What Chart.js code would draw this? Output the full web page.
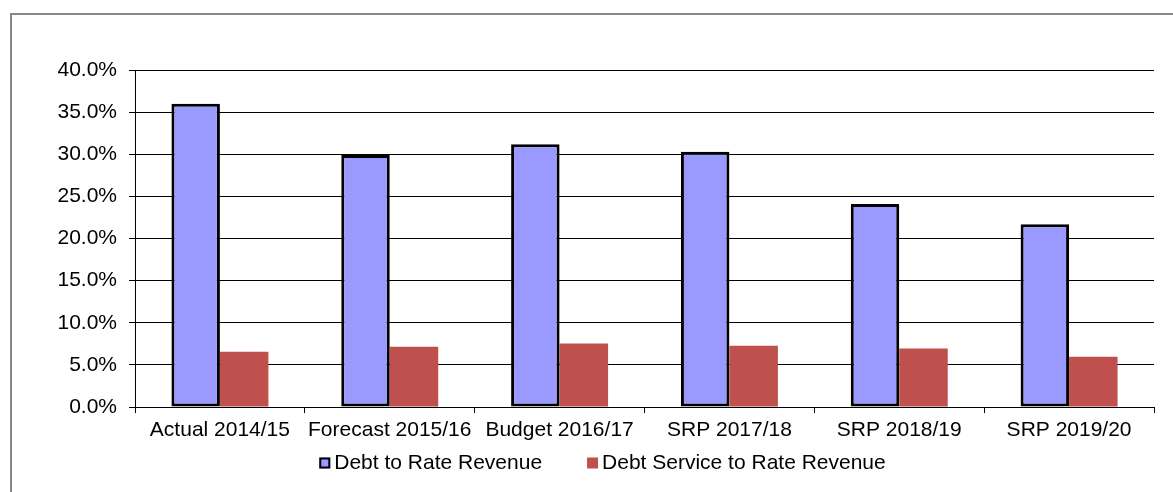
<!DOCTYPE html>
<html>
<head>
<meta charset="utf-8">
<script src="https://cdn.jsdelivr.net/npm/chart.js@4/dist/chart.umd.min.js"></script>
<style>
  html, body { margin: 0; padding: 0; background: #fff; }
  #wrap { position: relative; width: 1173px; height: 492px; overflow: hidden; }
  #frame { position: absolute; left: 10px; top: 13px; width: 1200px; height: 520px; border: 2px solid #878787; }
  #chart { position: absolute; left: 0; top: 0; }
</style>
</head>
<body>
<div id="wrap">
  <div id="frame"></div>
  <canvas id="chart" width="1173" height="492"></canvas>
</div>
<script>
// Chart data
const categories = ['Actual 2014/15', 'Forecast 2015/16', 'Budget 2016/17', 'SRP 2017/18', 'SRP 2018/19', 'SRP 2019/20'];
const debtToRate = [36.0, 29.9, 31.2, 30.3, 24.1, 21.7];
const debtServiceToRate = [6.55, 7.14, 7.54, 7.26, 6.94, 5.95];
const yTicks = [0, 5, 10, 15, 20, 25, 30, 35, 40];

const FONT = '"Liberation Sans", Arial, sans-serif';

// Excel style legend drawn under the axis
const bottomLegend = {
  id: 'bottomLegend',
  afterDraw(chart) {
    const ctx = chart.ctx;
    const box = 11, gap = 4, spacing = 45;
    ctx.save();
    ctx.font = '21px ' + FONT;
    ctx.textBaseline = 'middle';
    const items = chart.data.datasets.map(ds => ({
      ds: ds,
      w: box + gap + ctx.measureText(ds.label).width
    }));
    const total = items.reduce((s, it) => s + it.w, 0) + spacing * (items.length - 1);
    let x = 602.5 - total / 2;
    const y = 463;
    items.forEach(it => {
      ctx.fillStyle = it.ds.backgroundColor;
      ctx.fillRect(x, y - box / 2, box, box);
      if (it.ds.borderWidth) {
        ctx.strokeStyle = it.ds.borderColor;
        ctx.lineWidth = 2;
        ctx.strokeRect(x + 1, y - box / 2 + 1, box - 2, box - 2);
      }
      ctx.fillStyle = '#000';
      ctx.fillText(it.ds.label, x + box + gap, y);
      x += it.w + spacing;
    });
    ctx.restore();
  }
};

const ctx = document.getElementById('chart').getContext('2d');
new Chart(ctx, {
  type: 'bar',
  data: {
    labels: categories,
    datasets: [
      {
        label: 'Debt to Rate Revenue',
        data: debtToRate,
        backgroundColor: '#9999FF',
        borderColor: '#000000',
        borderWidth: 3,
        borderSkipped: false
      },
      {
        label: 'Debt Service to Rate Revenue',
        data: debtServiceToRate,
        backgroundColor: '#C0504D',
        borderWidth: 0
      }
    ]
  },
  options: {
    responsive: false,
    animation: false,
    layout: {
      padding: { left: 0, right: 19, top: 70, bottom: 0 }
    },
    datasets: {
      bar: {
        categoryPercentage: 0.571,
        barPercentage: 1.0
      }
    },
    plugins: {
      legend: { display: false },
      tooltip: { enabled: false }
    },
    scales: {
      x: {
        grid: {
          offset: true,
          drawOnChartArea: false,
          drawTicks: true,
          tickLength: 6,
          color: '#000'
        },
        border: { color: '#000', width: 1 },
        ticks: {
          color: '#000',
          font: { family: FONT, size: 21 },
          padding: 5,
          maxRotation: 0,
          autoSkip: false
        },
        afterFit(scale) {
          scale.height = 85;
        }
      },
      y: {
        min: 0,
        max: 40,
        afterBuildTicks(scale) {
          scale.ticks = yTicks.map(v => ({ value: v }));
        },
        grid: {
          color: '#000',
          lineWidth: 1,
          drawTicks: true,
          tickLength: 6
        },
        border: { color: '#000', width: 1 },
        ticks: {
          color: '#000',
          font: { family: FONT, size: 21 },
          padding: 12,
          callback: v => v.toFixed(1) + '%'
        },
        afterFit(scale) {
          scale.width = 135;
        }
      }
    }
  },
  plugins: [bottomLegend]
});
</script>
</body>
</html>
